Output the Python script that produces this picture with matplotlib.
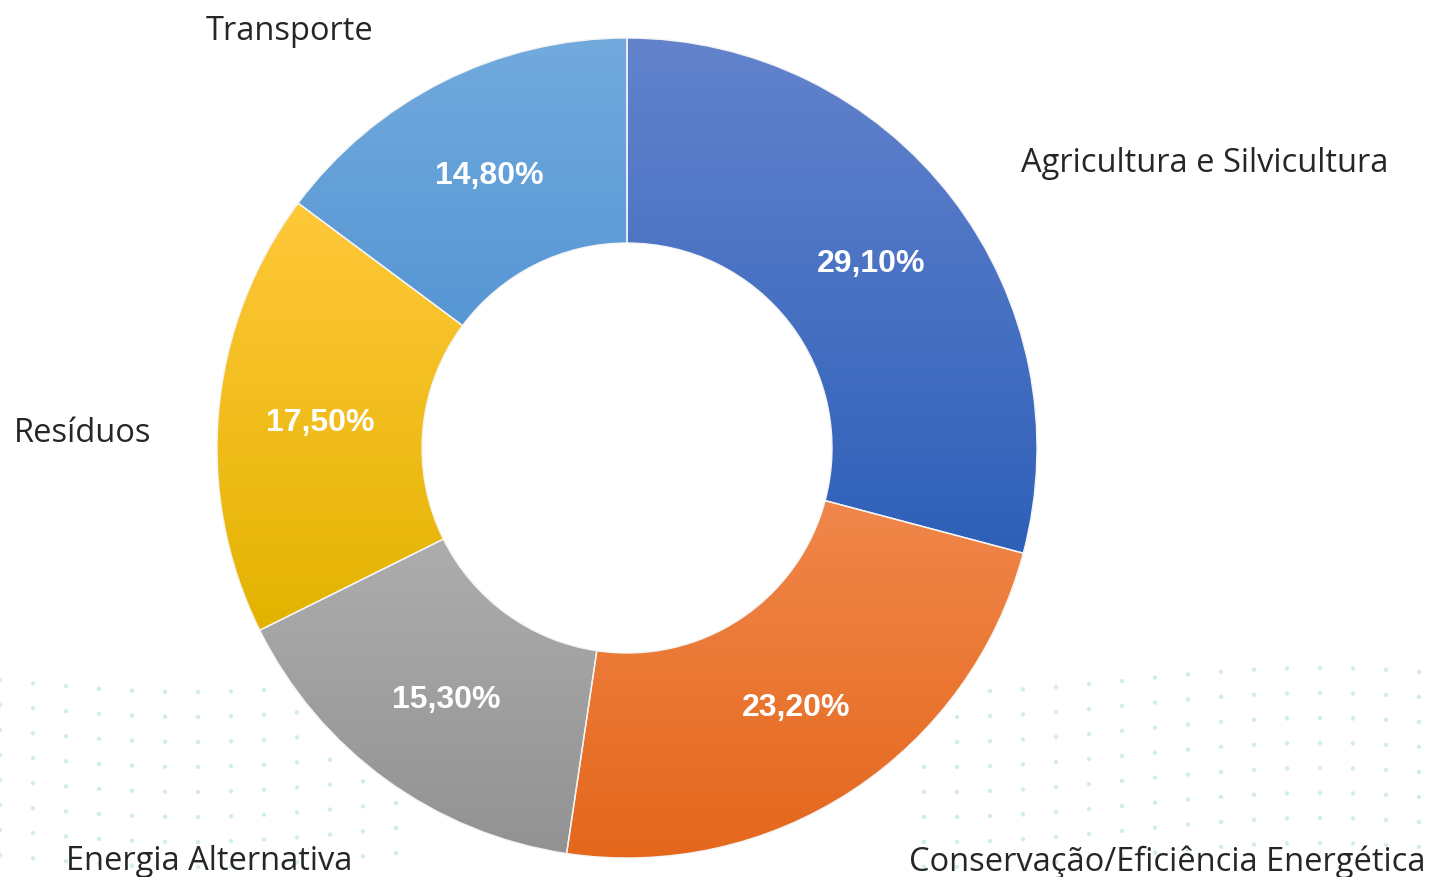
import matplotlib.pyplot as plt
import numpy as np
from matplotlib.colors import LinearSegmentedColormap

# dados
setores = ['Agricultura e Silvicultura', 'Conservação/Eficiência Energética',
           'Energia Alternativa', 'Resíduos', 'Transporte']
valores = [29.1, 23.2, 15.3, 17.5, 14.8]
rotulos = ['29,10%', '23,20%', '15,30%', '17,50%', '14,80%']
cor_topo = ['#6383CC', '#F28C52', '#B5B5B5', '#FFC83A', '#72AADE']
cor_base = ['#2E60B9', '#E4661A', '#929292', '#E3B300', '#4A8ECF']

fig = plt.figure(figsize=(14.32, 8.77), dpi=100)
ax = fig.add_axes([0, 0, 1, 1])
R = 410.0
xl = (-627 / R, (1432 - 627) / R)
yl = (-(877 - 448) / R, 448 / R)

# fundo decorativo de pontos (canto inferior)
gx, gy = np.meshgrid(np.arange(0, 1432, 33), np.arange(680, 880, 25))
gy = gy + 12 * np.sin(gx / 120.0)
mask = (gx < 420) | (gx > 900)
ax.scatter((gx[mask] - 627) / R, (448 - gy[mask]) / R, s=10, color='#d3ecee',
           edgecolors='none', zorder=0)

wedges, _ = ax.pie(valores, radius=1.0, startangle=90, counterclock=False,
                   wedgeprops=dict(width=0.5, edgecolor='#f4f4f4', linewidth=1))

grad = np.linspace(1, 0, 256).reshape(-1, 1)
for w, c0, c1 in zip(wedges, cor_topo, cor_base):
    w.set_facecolor('none')
    verts = w.get_path().vertices
    x0, x1 = verts[:, 0].min(), verts[:, 0].max()
    y0, y1 = verts[:, 1].min(), verts[:, 1].max()
    cmap = LinearSegmentedColormap.from_list('g', [c1, c0])
    # fundo branco sob o degradê para cobrir os pontos
    ax.fill(verts[:, 0], verts[:, 1], color='white', zorder=0.4)
    im = ax.imshow(grad, cmap=cmap, extent=[x0, x1, y0, y1], aspect='auto',
                   origin='upper', zorder=0.5)
    im.set_clip_path(w)

# rótulos percentuais
ang = 90.0
tot = sum(valores)
for v, t in zip(valores, rotulos):
    a = np.deg2rad(ang - v / tot * 180.0)
    ax.text(0.75 * np.cos(a), 0.75 * np.sin(a) - 3 / R, t, ha='center',
            va='center', color='white', fontsize=23, fontweight='bold',
            family='Liberation Sans')
    ang -= v / tot * 360.0

ax.set_xlim(*xl)
ax.set_ylim(*yl)
ax.set_aspect('auto')
ax.axis('off')

# rótulos das categorias (posição em pixels)
pos = [(1205, 164), (1167, 862), (209, 862), (83, 434), (290, 32)]
for s, (px, py) in zip(setores, pos):
    ax.text(px / 1432, 1 - py / 877, s, transform=ax.transAxes, ha='center',
            va='center', fontsize=23.5, color='#262626', family='Open Sans')

fig.savefig('out.png', dpi=100)
